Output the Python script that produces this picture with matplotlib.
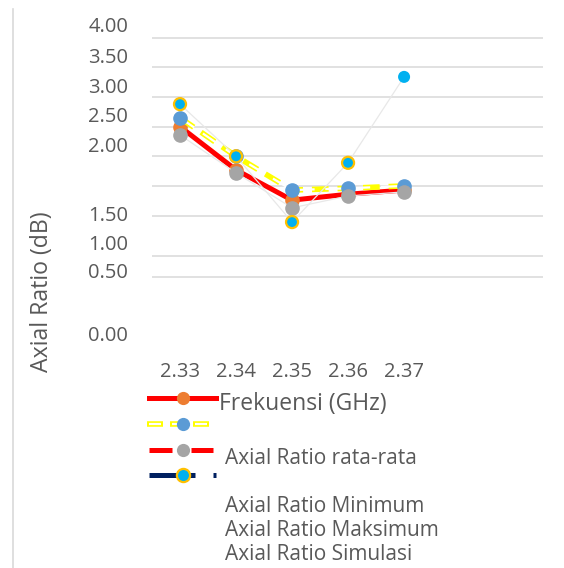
import matplotlib
matplotlib.use("Agg")
import matplotlib.pyplot as plt
from matplotlib.lines import Line2D

plt.rcParams["font.family"] = ["Open Sans", "DejaVu Sans"]

W, H = 564, 568
freq = [2.33, 2.34, 2.35, 2.36, 2.37]
ar_mean = [2.50, 1.77, 1.26, 1.36, 1.43]
ar_min = [2.65, 2.00, 1.43, 1.46, 1.50]
ar_max = [2.36, 1.72, 1.13, 1.33, 1.40]
ar_sim = [2.88, 2.00, 0.89, 1.89, 3.34]
sim_edges = ["#FFC000", "#FFC000", "#FFC000", "#FFC000", "none"]

grid_levels = [4.0, 3.5, 3.0, 2.5, 2.0, 1.5, 1.0, 0.32, -0.04]
ytick_labels = ["4.00", "3.50", "3.00", "2.50", "2.00", "1.50", "1.00", "0.50", "0.00"]
ytick_pos = [4.19, 3.66, 3.16, 2.67, 2.16, 0.99, 0.50, 0.03, -1.03]
xtick_labels = ["2.33", "2.34", "2.35", "2.36", "2.37"]

TXT = "#595959"


def fx(x):
    return x / W


def fy(y):
    return 1 - y / H


fig = plt.figure(figsize=(W / 100, H / 100), dpi=100)
ax = fig.add_axes([fx(152), fy(340), (543 - 152) / W, 320 / H])
ax.set_xlim(2.325, 2.3948)
ax.set_ylim(-1.10, 4.30)
for s in ax.spines.values():
    s.set_visible(False)
for g in grid_levels:
    ax.axhline(g, color="#D9D9D9", linewidth=1.1, zorder=0)

ax.set_yticks([])
ax.set_xticks(freq)
ax.set_xticklabels(xtick_labels, fontsize=14.5, color=TXT)
ax.tick_params(axis="x", length=0, pad=16)

tr = ax.get_yaxis_transform()
for lab, y in zip(ytick_labels, ytick_pos):
    ax.text(-0.061, y, lab, transform=tr, ha="right", va="center", fontsize=14.5, color=TXT)

# series
ax.plot(freq, ar_mean, color="#FF0000", linewidth=3.6, marker="o", markersize=9.5,
        markerfacecolor="#ED7D31", markeredgecolor="#ED7D31", zorder=3)
ax.plot(freq, ar_min, color="#FFFF00", linewidth=4.0, dashes=(3, 1.6), zorder=4)
ax.plot(freq, ar_min, color="white", linewidth=1.6, dashes=(7.7, 4.8), dash_capstyle="butt",
        zorder=4)
ax.plot(freq, ar_min, linestyle="none", marker="o", markersize=9.5,
        markerfacecolor="#5B9BD5", markeredgecolor="#5B9BD5", zorder=5)
ax.plot(freq, ar_max, color="#E8E8E8", linewidth=0.9, marker="o", markersize=9.5,
        markerfacecolor="#A5A5A5", markeredgecolor="#A5A5A5", zorder=6)
ax.plot(freq, ar_sim, color="#E8E8E8", linewidth=0.9, zorder=6)
ax.scatter(freq, ar_sim, s=75, c="#00B0F0", edgecolors=sim_edges, linewidths=1.6, zorder=7)

fig.text(fx(42), fy(292), "Axial Ratio (dB)", rotation=90, ha="center", va="center",
         fontsize=16.7, color=TXT)

# chart area left border
fig.add_artist(Line2D([fx(13), fx(13)], [fy(9), fy(568)], color="#D9D9D9", linewidth=1.2))


# legend (as drawn in the source chart)
def seg(x0, x1, y, **kw):
    fig.add_artist(Line2D([fx(x0), fx(x1)], [fy(y), fy(y)], **kw))


def dot(x, y, fc, ec=None, lw=0):
    fig.add_artist(Line2D([fx(x)], [fy(y)], marker="o", markersize=9.5, markerfacecolor=fc,
                          markeredgecolor=ec or fc, markeredgewidth=lw if ec else 0))


seg(149, 216, 398, color="#FF0000", linewidth=3.6)
dot(183, 398, "#ED7D31")
for a, b in [(147, 163), (170, 183), (193, 209)]:
    seg(a, b, 424, color="#FFFF00", linewidth=4.0, solid_capstyle="butt")
    seg(a + 2, b - 2, 424, color="white", linewidth=1.6, solid_capstyle="butt")
dot(183, 424, "#5B9BD5")
seg(149, 172, 450, color="#FF0000", linewidth=3.6, solid_capstyle="butt")
seg(191, 213, 450, color="#FF0000", linewidth=3.6, solid_capstyle="butt")
dot(183, 450, "#A5A5A5")
seg(149, 195, 475, color="#002060", linewidth=3.6, solid_capstyle="butt")
seg(213, 216, 475, color="#002060", linewidth=3.6, solid_capstyle="butt")
dot(183, 475, "#00B0F0", "#FFC000", 1.6)

fig.text(fx(219), fy(404), "Frekuensi (GHz)", ha="left", va="center", fontsize=16.5, color=TXT)
for y, t in [(459, "Axial Ratio rata-rata"), (507, "Axial Ratio Minimum"),
             (531, "Axial Ratio Maksimum"), (554, "Axial Ratio Simulasi")]:
    fig.text(fx(225), fy(y), t, ha="left", va="center", fontsize=15, color=TXT)

fig.savefig("out.png", dpi=100)
